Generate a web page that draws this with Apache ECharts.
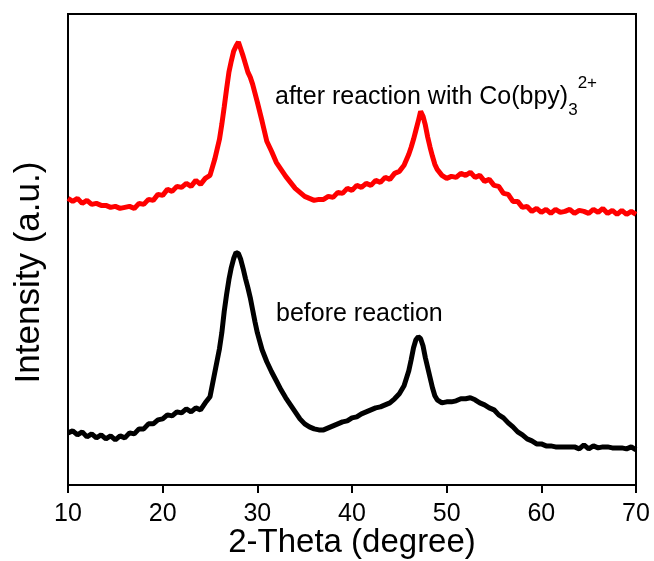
<!DOCTYPE html>
<html>
<head>
<meta charset="utf-8">
<script src="https://cdn.jsdelivr.net/npm/echarts@6/dist/echarts.min.js"></script>
<style>
html,body{margin:0;padding:0;background:#fff;}
#chart{width:654px;height:561px;}
</style>
</head>
<body>
<div id="chart"></div>
<script>
// 2-Theta angles (degree)
var angles = [10,10.5,11,11.5,12,12.5,13,13.5,14,14.5,15,15.5,16,16.5,17,17.5,18,18.5,19,19.5,20,20.5,21,21.5,22,22.5,23,23.5,24,24.5,25,25.5,26,
26.25,26.5,26.75,27,27.25,27.5,27.75,28,28.25,28.5,28.75,29,29.25,29.5,29.75,
30,30.5,31,31.5,32,32.5,33,33.5,34,34.5,35,35.5,36,36.5,37,37.5,38,38.5,39,39.5,40,40.5,41,41.5,42,42.5,43,43.5,44,44.5,45,45.5,46,
46.25,46.5,46.75,47,47.25,47.5,47.75,48,48.25,48.5,48.75,
49,49.5,50,50.5,51,51.5,52,52.5,53,53.5,54,54.5,55,55.5,56,56.5,57,57.5,58,58.5,59,59.5,60,60.5,61,61.5,62,62.5,63,63.5,64,64.5,65,65.5,66,66.5,67,67.5,68,68.5,69,69.5,70];

// Intensity (a.u.) (arbitrary units, offset curves)
var afterReaction = [286,283,286,281,284,280,281,279,279,277,278,276,277,278,276,281,280,285,284,290,289,295,293,298,297,301,298,304,300,306,309,325,345,
360,377,395,412,423,433,438,442,435,428,420,412,407,400,391,
382,363,343,333,322,315,308,302,296,292,288,286,284,285,285,288,287,292,291,296,294,299,297,301,299,304,302,307,305,311,313,319,330,
337,345,354,363,373,368,359,347,337,328,320,
315,309,306,308,307,311,309,312,307,309,303,305,299,298,291,290,283,283,277,278,273,276,272,275,271,275,272,273,275,271,274,273,271,275,272,276,271,274,270,274,270,273,270];

var beforeReaction = [52,54,50,53,48,51,47,50,46,49,45,49,47,52,51,56,56,61,61,65,66,70,69,73,72,76,73,77,75,82,88,112,136,
152,173,190,205,217,226,232,231,225,216,206,197,187,175,163,
152,135,123,113,104,95,87,80,73,66,61,58,56,55,55,57,59,61,63,64,67,68,71,73,75,77,78,80,82,86,91,99,114,
125,137,145,148,146,139,127,117,107,97,89,
85,82,83,83,84,86,86,87,85,82,80,77,75,70,67,62,58,53,50,46,44,41,41,39,39,38,38,38,38,38,36,40,36,39,37,38,38,37,37,37,36,38,35];

var xTicks = [10,20,30,40,50,60,70];

var chart = echarts.init(document.getElementById('chart'));
function pairs(v){ return angles.map(function(a,i){ return [a, v[i]]; }); }

chart.setOption({
  animation:false,
  backgroundColor:'#fff',
  grid:{left:68,right:18,top:14,bottom:76,containLabel:false,outerBoundsMode:'none',show:true,borderColor:'#000',borderWidth:2,backgroundColor:'transparent'},
  xAxis:{
    type:'value', min:xTicks[0], max:xTicks[xTicks.length-1], interval:10,
    name:'2-Theta (degree)', nameLocation:'middle', nameGap:41, nameMoveOverlap:false,
    nameTextStyle:{fontFamily:'Liberation Sans, Arial, sans-serif',fontSize:33,color:'#000'},
    axisLine:{show:true,lineStyle:{color:'#000',width:2}},
    axisTick:{show:true,inside:false,length:8,lineStyle:{color:'#000',width:2}},
    axisLabel:{fontFamily:'Liberation Sans, Arial, sans-serif',fontSize:25,color:'#000',margin:17},
    splitLine:{show:false}
  },
  yAxis:{
    type:'value', min:0, max:470,
    name:'Intensity (a.u.)', nameLocation:'middle', nameGap:21, nameMoveOverlap:false,
    nameTextStyle:{fontFamily:'Liberation Sans, Arial, sans-serif',fontSize:35,color:'#000',padding:[0,46,0,0]},
    axisLine:{show:true,lineStyle:{color:'#000',width:2}},
    axisTick:{show:false}, axisLabel:{show:false}, splitLine:{show:false}
  },
  series:[
    {name:'before reaction',type:'line',data:pairs(beforeReaction),showSymbol:false,smooth:false,
     lineStyle:{color:'#000',width:5},itemStyle:{color:'#000'}},
    {name:'after reaction',type:'line',data:pairs(afterReaction),showSymbol:false,smooth:false,
     lineStyle:{color:'#ff0000',width:5},itemStyle:{color:'#ff0000'}}
  ],
  graphic:[
    {type:'text',x:275,y:75,style:{
      text:'after reaction with Co(bpy){sub|3}{sup|2+}',
      fill:'#000', font:'25px "Liberation Sans", Arial, sans-serif', lineHeight:44, verticalAlign:'top',
      rich:{
        sub:{fontSize:17,fontFamily:'Liberation Sans, Arial, sans-serif',lineHeight:16,verticalAlign:'bottom',fill:'#000'},
        sup:{fontSize:17,fontFamily:'Liberation Sans, Arial, sans-serif',lineHeight:12,verticalAlign:'top',fill:'#000'}
      }
    }},
    {type:'text',x:276,y:314,style:{
      text:'before reaction', fill:'#000', font:'25px "Liberation Sans", Arial, sans-serif', verticalAlign:'middle'
    }}
  ]
});
</script>
</body>
</html>
